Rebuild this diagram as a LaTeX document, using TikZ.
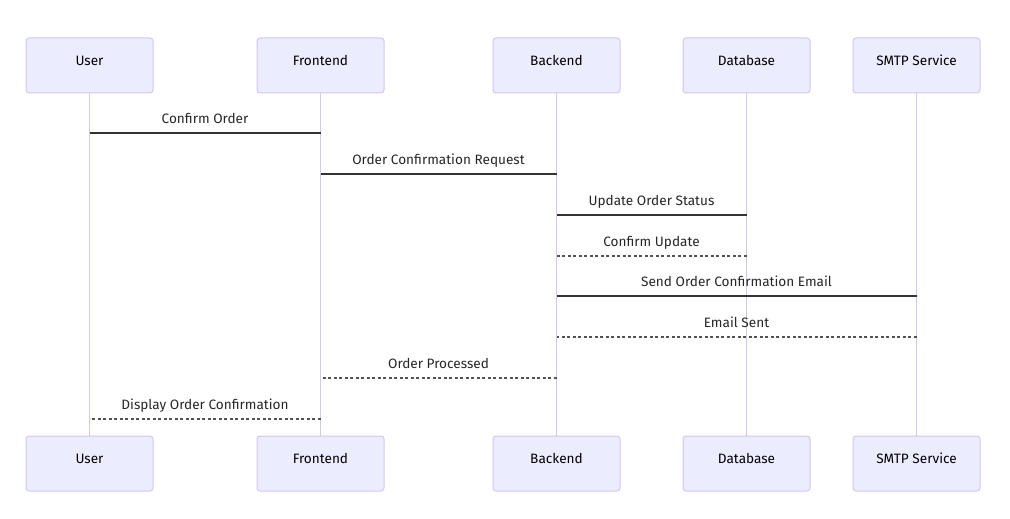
\documentclass[tikz,border=0pt]{standalone}
\usepackage{fontspec}
\setmainfont{Fira Sans}
\definecolor{actfill}{HTML}{ECECFF}
\definecolor{actline}{HTML}{D3C6F2}
\definecolor{msgline}{HTML}{333333}
\begin{document}
\begin{tikzpicture}[x=1pt,y=-1pt,
  actor/.style={draw=actline,fill=actfill,line width=1pt,rounded corners=3pt,minimum width=127pt,minimum height=55pt,inner sep=0pt,text height=9.5pt,text depth=9.5pt,font=\fontsize{13.6}{16}\selectfont,text=black},
  life/.style={draw=actline,line width=1.3pt},
  msg/.style={draw=msgline,line width=1.2pt},
  reply/.style={draw=msgline!85,line width=1.1pt,dash pattern=on 3pt off 2.5pt},
  lbl/.style={font=\fontsize{13.6}{16}\selectfont,text=black!85,inner sep=0pt,anchor=base,yshift=10pt}]
\useasboundingbox (0,0) rectangle (1010,519);
\foreach \n/\x/\t in {u/89.5/User,f/320.5/Frontend,b/556.5/Backend,d/746.5/Database,s/916.5/SMTP Service}{
  \node[actor] (\n top) at (\x,65.5) {\t};
  \node[actor] (\n bot) at (\x,463.5) {\t};
  \draw[life] (\n top.south) -- (\n bot.north);
}
% message coordinates
\coordinate (m1a) at (utop.south |- 0,133); \coordinate (m1b) at (ftop.south |- 0,133);
\coordinate (m2a) at (ftop.south |- 0,174); \coordinate (m2b) at (btop.south |- 0,174);
\coordinate (m3a) at (btop.south |- 0,215); \coordinate (m3b) at (dtop.south |- 0,215);
\coordinate (m4a) at (dtop.south |- 0,256); \coordinate (m4b) at (btop.south |- 0,256);
\coordinate (m5a) at (btop.south |- 0,296); \coordinate (m5b) at (stop.south |- 0,296);
\coordinate (m6a) at (stop.south |- 0,337); \coordinate (m6b) at (btop.south |- 0,337);
\coordinate (m7a) at (btop.south |- 0,378); \coordinate (m7b) at (ftop.south |- 0,378);
\coordinate (m8a) at (ftop.south |- 0,419); \coordinate (m8b) at (utop.south |- 0,419);
\draw[msg] (m1a) -- (m1b) node[lbl,midway] {Confirm Order};
\draw[msg] (m2a) -- (m2b) node[lbl,midway] {Order Confirmation Request};
\draw[msg] (m3a) -- (m3b) node[lbl,midway] {Update Order Status};
\draw[reply] (m4a) -- (m4b) node[lbl,midway] {Confirm Update};
\draw[msg] (m5a) -- (m5b) node[lbl,midway] {Send Order Confirmation Email};
\draw[reply] (m6a) -- (m6b) node[lbl,midway] {Email Sent};
\draw[reply] (m7a) -- (m7b) node[lbl,midway] {Order Processed};
\draw[reply] (m8a) -- (m8b) node[lbl,midway] {Display Order Confirmation};
\end{tikzpicture}
\end{document}
